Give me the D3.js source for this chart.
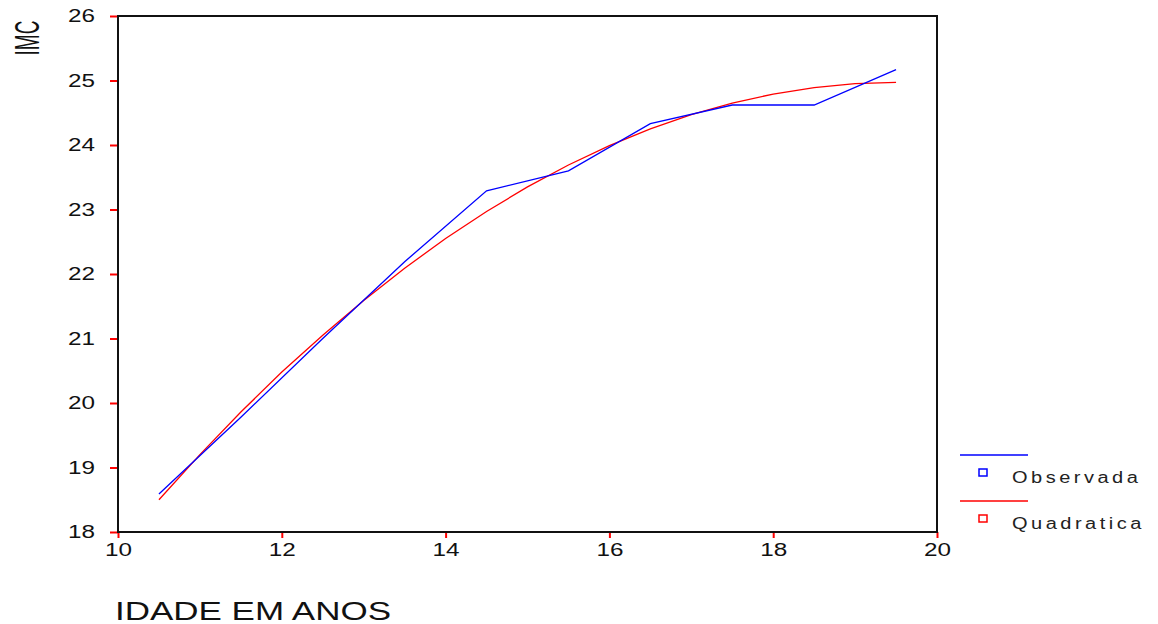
<!DOCTYPE html>
<html>
<head>
<meta charset="utf-8">
<script src="https://cdn.jsdelivr.net/npm/d3@7"></script>
<style>
body { margin: 0; background: #fff; }
svg { display: block; }
</style>
</head>
<body>
<svg width="1158" height="624"></svg>
<script>
var svg = d3.select('svg')

// ages (years) and observed IMC
var idade = [10.5, 11.5, 12.5, 13.5, 14.5, 15.5, 16.5, 17.5, 18.5, 19.5]
var observada = [18.59, 19.78, 21.0, 22.19, 23.29, 23.6, 24.33, 24.62, 24.62, 25.17]

// quadratic fit
var idadeQ = [10.5, 11, 11.5, 12, 12.5, 13, 13.5, 14, 14.5, 15, 15.5, 16, 16.5, 17, 17.5, 18, 18.5, 19, 19.5]
var quadratica = [18.5, 19.2, 19.86, 20.48, 21.05, 21.59, 22.09, 22.55, 22.97, 23.35, 23.69, 23.99, 24.25, 24.47, 24.65, 24.79, 24.89, 24.95, 24.97]

var xTicks = [10, 12, 14, 16, 18, 20]
var yTicks = [18, 19, 20, 21, 22, 23, 24, 25, 26]

var plotLeft = 118, plotRight = 937, plotTop = 16, plotBottom = 532

var x = d3.scaleLinear().domain([10, 20]).range([plotLeft, plotRight])
var y = d3.scaleLinear().domain([18, 26]).range([plotBottom, plotTop])

var font = "'Liberation Sans', Arial, sans-serif"

//Axes with red ticks
svg.append('g')
	.attr('transform', 'translate(' + plotLeft + ',0)')
	.call(d3.axisLeft(y).tickValues(yTicks).tickSize(8).tickPadding(15).tickFormat(d3.format('d')))
svg.append('g')
	.attr('transform', 'translate(0,' + plotBottom + ')')
	.call(d3.axisBottom(x).tickValues(xTicks).tickSize(6).tickPadding(5).tickFormat(d3.format('d')))

svg.selectAll('.domain').remove()
svg.selectAll('.tick line').attr('stroke', '#ff0000').attr('stroke-width', 2)
// the original text is stretched sideways, so fix the width of each label
svg.selectAll('.tick text')
	.attr('fill', '#111')
	.attr('textLength', 27)
	.attr('lengthAdjust', 'spacingAndGlyphs')
	.style('font-family', font)
	.style('font-size', '18px')

//Frame
svg.append('rect')
	.attr('x', plotLeft)
	.attr('y', plotTop)
	.attr('width', plotRight - plotLeft)
	.attr('height', plotBottom - plotTop)
	.attr('fill', 'none')
	.attr('stroke', '#111')
	.attr('stroke-width', 2)

var line = d3.line()
	.x(function(d) { return x(d[0]) })
	.y(function(d) { return y(d[1]) })

svg.append('path')
	.datum(d3.zip(idadeQ, quadratica))
	.attr('d', line)
	.attr('fill', 'none')
	.attr('stroke', '#ff0000')
	.attr('stroke-width', 1.3)

svg.append('path')
	.datum(d3.zip(idade, observada))
	.attr('d', line)
	.attr('fill', 'none')
	.attr('stroke', '#0000ff')
	.attr('stroke-width', 1.3)

//Axis titles
svg.append('text')
	.text('IMC')
	.attr('transform', 'translate(39,38) scale(1.8,1) rotate(-90)')
	.attr('text-anchor', 'middle')
	.style('font-family', font)
	.style('font-size', '19px')
	.attr('fill', '#111')

svg.append('text')
	.text('IDADE EM ANOS')
	.attr('x', 115)
	.attr('y', 620)
	.attr('textLength', 276)
	.attr('lengthAdjust', 'spacingAndGlyphs')
	.style('font-family', font)
	.style('font-size', '25px')
	.attr('fill', '#111')

//Legend
var legend = [
	{name: 'Observada', color: '#0000ff'},
	{name: 'Quadratica', color: '#ff0000'}
]
var lg = svg.selectAll('g.legend')
	.data(legend)
	.enter()
	.append('g')
	.attr('class', 'legend')
	.attr('transform', function(d, i) { return 'translate(960,' + (455 + i * 46) + ')' })
lg.append('line')
	.attr('x1', 0).attr('x2', 68)
	.attr('y1', 0).attr('y2', 0)
	.attr('stroke', function(d) { return d.color })
	.attr('stroke-width', 1.5)
lg.append('rect')
	.attr('x', 19).attr('y', 14)
	.attr('width', 8).attr('height', 7)
	.attr('fill', 'none')
	.attr('stroke', function(d) { return d.color })
	.attr('stroke-width', 1.5)
lg.append('text')
	.text(function(d) { return d.name })
	.attr('transform', 'translate(52,28) scale(1.25,1)')
	.style('font-family', font)
	.style('font-size', '16px')
	.style('letter-spacing', '2.8px')
	.attr('fill', '#222')
</script>
</body>
</html>
